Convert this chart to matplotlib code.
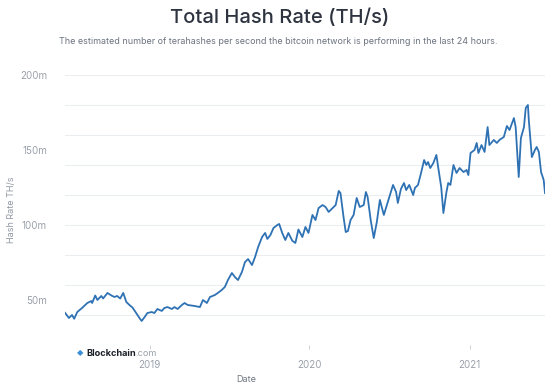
import matplotlib
matplotlib.use("Agg")
import matplotlib.pyplot as plt
import numpy as np
import pandas as pd

dates = [
    "2018-06-22", "2018-07-01", "2018-07-08", "2018-07-13", "2018-07-20", "2018-07-31",
    "2018-08-12", "2018-08-21", "2018-08-23", "2018-08-30", "2018-09-04", "2018-09-13",
    "2018-09-17", "2018-09-27", "2018-10-06", "2018-10-13", "2018-10-19", "2018-10-26",
    "2018-11-02", "2018-11-09", "2018-11-16", "2018-11-23", "2018-11-30", "2018-12-09",
    "2018-12-14", "2018-12-21", "2018-12-27", "2019-01-06", "2019-01-12", "2019-01-19",
    "2019-01-29", "2019-02-04", "2019-02-11", "2019-02-21", "2019-02-27", "2019-03-06",
    "2019-03-16", "2019-03-22", "2019-03-29", "2019-04-14", "2019-04-26", "2019-05-03",
    "2019-05-12", "2019-05-19", "2019-05-30", "2019-06-06", "2019-06-15", "2019-06-22",
    "2019-06-29", "2019-07-08", "2019-07-15", "2019-07-22", "2019-07-31", "2019-08-07",
    "2019-08-14", "2019-08-23", "2019-08-30", "2019-09-06", "2019-09-15", "2019-09-22",
    "2019-09-27", "2019-10-04", "2019-10-11", "2019-10-20", "2019-10-24", "2019-10-31",
    "2019-11-07", "2019-11-14", "2019-11-23", "2019-11-30", "2019-12-07", "2019-12-16",
    "2019-12-23", "2019-12-30", "2020-01-08", "2020-01-15", "2020-01-22", "2020-01-31",
    "2020-02-07", "2020-02-14", "2020-02-23", "2020-03-01", "2020-03-08", "2020-03-12",
    "2020-03-19", "2020-03-24", "2020-03-29", "2020-04-04", "2020-04-11", "2020-04-18",
    "2020-04-25", "2020-05-04", "2020-05-09", "2020-05-13", "2020-05-20", "2020-05-27",
    "2020-06-03", "2020-06-10", "2020-06-19", "2020-06-28", "2020-07-10", "2020-07-17",
    "2020-07-21", "2020-07-28", "2020-08-04", "2020-08-09", "2020-08-16", "2020-08-25",
    "2020-08-29", "2020-09-05", "2020-09-12", "2020-09-19", "2020-09-24", "2020-09-28",
    "2020-10-03", "2020-10-10", "2020-10-17", "2020-10-21", "2020-10-28", "2020-11-02",
    "2020-11-09", "2020-11-13", "2020-11-18", "2020-11-25", "2020-12-02", "2020-12-09",
    "2020-12-18", "2020-12-25", "2020-12-29", "2021-01-03", "2021-01-12", "2021-01-17",
    "2021-01-21", "2021-01-28", "2021-02-04", "2021-02-11", "2021-02-15", "2021-02-25",
    "2021-03-04", "2021-03-10", "2021-03-20", "2021-03-27", "2021-04-02", "2021-04-12",
    "2021-04-16", "2021-04-23", "2021-04-28", "2021-05-05", "2021-05-09", "2021-05-14",
    "2021-05-16", "2021-05-23", "2021-05-30", "2021-06-03", "2021-06-08", "2021-06-13",
    "2021-06-19", "2021-06-22",
]

# hash rate in millions of TH/s
hash_rate = [
    41.5, 38.0, 40.0, 37.5, 42.0, 44.7,
    48.0, 49.3, 48.0, 53.0, 50.0, 52.7,
    51.0, 54.7, 53.0, 52.0, 52.7, 51.0,
    54.7, 48.7, 46.7, 45.0, 42.0, 38.0,
    36.0, 38.7, 41.3, 42.0, 41.3, 44.0,
    42.7, 44.7, 45.3, 44.0, 45.3, 44.0,
    46.7, 48.0, 46.7, 46.0, 45.3, 50.0,
    48.0, 52.0, 53.3, 54.7, 56.7, 58.7,
    63.3, 68.0, 65.3, 63.3, 68.7, 75.3,
    77.3, 73.3, 78.7, 85.3, 92.0, 94.7,
    90.7, 93.3, 98.0, 100.0, 100.7, 94.7,
    90.0, 94.7, 89.5, 88.0, 97.0, 92.0,
    98.7, 94.7, 106.7, 103.3, 111.3, 113.3,
    112.0, 108.7, 111.3, 113.3, 122.7, 121.3,
    105.3, 95.3, 96.0, 103.3, 106.7, 118.0,
    112.0, 113.3, 122.0, 118.7, 103.3, 91.3,
    102.0, 116.7, 106.7, 115.3, 126.7, 122.0,
    114.7, 124.0, 128.0, 123.3, 126.7, 120.0,
    124.7, 126.7, 134.7, 143.3, 140.0, 142.0,
    138.0, 141.3, 146.7, 138.7, 125.3, 108.0,
    122.0, 128.0, 126.7, 140.0, 134.7, 138.0,
    135.3, 136.7, 133.3, 148.0, 150.0, 154.7,
    148.0, 153.3, 148.7, 165.3, 153.3, 156.7,
    154.7, 156.7, 158.7, 166.0, 163.3, 171.3,
    165.3, 132.0, 158.0, 165.3, 178.0, 180.0,
    170.0, 145.3, 150.0, 152.0, 148.7, 135.3,
    130.0, 121.3,
]

year_ticks = ["2019-01-01", "2020-01-01", "2021-01-01"]
year_labels = ["2019", "2020", "2021"]
y_grid = [20, 40, 60, 80, 100, 120, 140, 160, 180, 200]
y_ticks = [50, 100, 150, 200]
y_labels = ["50m", "100m", "150m", "200m"]

x = pd.to_datetime(dates)

plt.rcParams['font.family'] = ['Inter', 'DejaVu Sans']

fig = plt.figure(figsize=(5.6, 3.92), dpi=100)
ax = fig.add_axes([65 / 560, 1 - 345 / 392, 480 / 560, 270 / 392])

grid_color = "#ebedf0"
for g in y_grid:
    ax.axhline(g, color=grid_color, lw=0.8, zorder=0)

ax.plot(x, hash_rate, color="#2f72b4", lw=1.3, zorder=3)

ax.set_ylim(20, 200)
ax.set_xlim(x[0], x[-1])

for s in ax.spines.values():
    s.set_visible(False)

ax.set_yticks(y_ticks)
ax.set_yticklabels(y_labels)
ax.set_xticks(pd.to_datetime(year_ticks))
ax.set_xticklabels(year_labels)
ax.tick_params(axis="y", length=0, pad=13, labelsize=7, labelcolor="#9aa1ab")
ax.tick_params(axis="x", length=3, width=0.6, color="#c5c9cf", pad=8,
               labelsize=7, labelcolor="#9aa1ab", direction="out")

fig.text(12 / 560, 1 - 210 / 392, "Hash Rate TH/s", rotation=90, ha="center", va="center",
         fontsize=6.5, color="#8f97a3")
fig.text(246 / 560, 1 - 379 / 392, "Date", ha="center", va="center",
         fontsize=6.5, color="#6f7782")

fig.text(0.5, 1 - 18 / 392, "Total Hash Rate (TH/s)", ha="center", va="center",
         fontsize=14.5, color="#2d3440", fontweight="medium")
fig.text(0.497, 1 - 41 / 392,
         "The estimated number of terahashes per second the bitcoin network is performing in the last 24 hours.",
         ha="center", va="center", fontsize=6.45, color="#6b7380")

fig.text(77 / 560, 1 - 353 / 392, "\u25C6", ha="left", va="center", fontsize=6,
         color="#3c8fd6", family=["DejaVu Sans"])
brand = fig.text(86 / 560, 1 - 353 / 392, "Blockchain", ha="left", va="center", fontsize=6.6,
                 color="#1a1f27", fontweight="bold")
ax.annotate(".com", xy=(1, 0.5), xycoords=brand, ha="left", va="center",
            fontsize=6.6, color="#9aa1ab", annotation_clip=False)

fig.savefig("out.png", dpi=100)
